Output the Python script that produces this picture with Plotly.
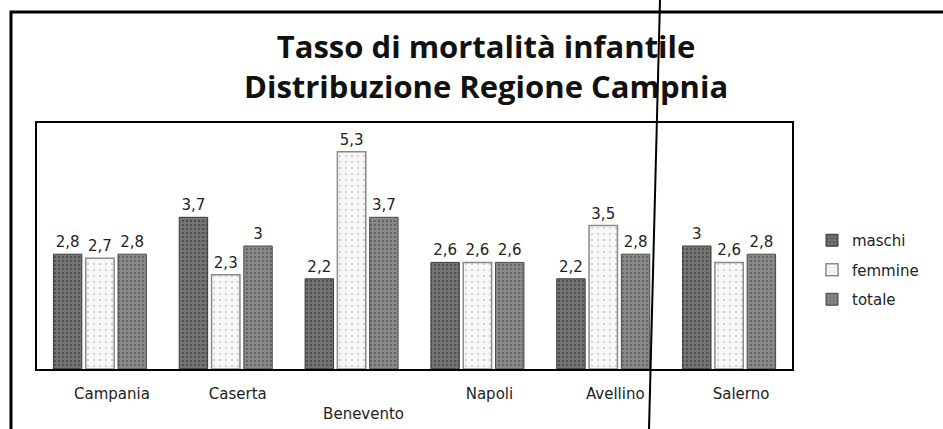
import plotly.graph_objects as go

categories = ["Campania", "Caserta", "Benevento", "Napoli", "Avellino", "Salerno"]
tick_labels = ["Campania", "Caserta", "<br>Benevento", "Napoli", "Avellino", "Salerno"]
maschi = [2.8, 3.7, 2.2, 2.6, 2.2, 3.0]
femmine = [2.7, 2.3, 5.3, 2.6, 3.5, 2.6]
totale = [2.8, 3.0, 3.7, 2.6, 2.8, 2.8]
series_names = ["maschi", "femmine", "totale"]
title_lines = ["Tasso di mortalità infantile", "Distribuzione Regione Campnia"]

def fmt(v):
    return f"{v:g}".replace(".", ",")

W, H = 943, 429
L, R, T, B = 37, 151, 123, 60
pw = W - L - R
ph = H - T - B

def px(x):
    return (x - L) / pw

def py(y):
    return (H - B - y) / ph

fig = go.Figure()
styles = [
    dict(color="#6b6b6b", line=dict(color="#3a3a3a", width=1),
         pattern=dict(shape=".", fgcolor="#2e2e2e", bgcolor="#757575", size=4, solidity=0.35)),
    dict(color="#f3f3f3", line=dict(color="#8a8a8a", width=1.5),
         pattern=dict(shape=".", fgcolor="#b0b0b0", bgcolor="#f7f7f7", size=6, solidity=0.12)),
    dict(color="#858585", line=dict(color="#4a4a4a", width=1),
         pattern=dict(shape=".", fgcolor="#444444", bgcolor="#8a8a8a", size=4, solidity=0.3)),
]
for name, vals, st in zip(series_names, [maschi, femmine, totale], styles):
    fig.add_trace(go.Bar(
        x=categories, y=vals, name=name, marker=st, legendgroup=name,
        text=[fmt(v) for v in vals], textposition="outside",
        textfont=dict(family="DejaVu Sans", size=15, color="#222"),
        cliponaxis=False,
    ))

fig.update_layout(
    width=W, height=H,
    margin=dict(l=L, r=R, t=T, b=B, autoexpand=False),
    paper_bgcolor="white", plot_bgcolor="white",
    barmode="group", bargap=0.23, bargroupgap=0.12,
    showlegend=True,
    legend=dict(x=px(812), y=py(224), xanchor="left", yanchor="top",
                font=dict(family="DejaVu Sans", size=15, color="#222"),
                itemwidth=30, traceorder="grouped", tracegroupgap=7,
                bgcolor="rgba(0,0,0,0)"),
    xaxis=dict(tickmode="array", tickvals=categories, ticktext=tick_labels,
               showline=True, linecolor="black", linewidth=2, mirror=True,
               showgrid=False, ticks="", ticklabelshift=12, ticklabelstandoff=10,
               tickfont=dict(family="DejaVu Sans", size=15, color="#222")),
    yaxis=dict(range=[0, 6], showline=True, linecolor="black", linewidth=2,
               mirror=True, showgrid=False, showticklabels=False, ticks="",
               zeroline=False),
    annotations=[
        dict(text="<b>" + "<br>".join(title_lines) + "</b>", x=px(486), y=py(66),
             xref="paper", yref="paper", showarrow=False, yanchor="middle",
             align="center",
             font=dict(family="Open Sans", size=31, color="#111")),
    ],
    shapes=[
        dict(type="rect", xref="paper", yref="paper",
             x0=px(11), x1=px(960), y0=py(450), y1=py(12),
             line=dict(color="black", width=3)),
        dict(type="line", xref="paper", yref="paper",
             x0=px(660), x1=px(649), y0=py(0), y1=py(429),
             line=dict(color="black", width=2)),
    ],
)

fig.write_html("out.html", config={"displayModeBar": False},
               post_script="document.body.style.margin='0';")
